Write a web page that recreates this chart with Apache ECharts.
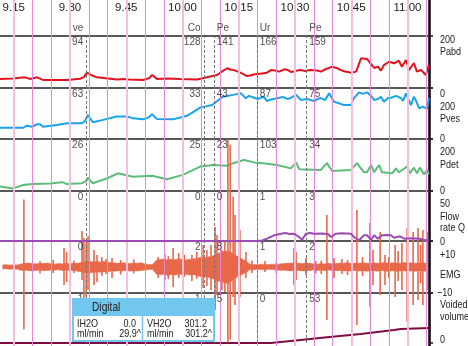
<!DOCTYPE html>
<html><head><meta charset="utf-8">
<script src="https://cdn.jsdelivr.net/npm/echarts@6/dist/echarts.min.js"></script>
<style>html,body{margin:0;padding:0;background:#fff;overflow:hidden}#c{width:468px;height:346px}</style>
</head><body><div id="c"></div>
<script>
// ---------- DATA (time = minutes after 9:00) ----------
const tickTimes  = [15, 30, 45, 60, 75, 90, 105, 120];
const tickLabels = ['9.15', '9.30', '9.45', '10.00', '10.15', '10.30', '10.45', '11.00'];
const gridMinorTimes = [20, 25, 35, 40, 50, 55, 65, 70, 80, 85, 95, 100, 110, 115, 125];
const gridMajorTimes = [15, 30, 45, 60, 75, 90, 105, 120];

const eventTimes = [34.45, 65.73, 68.48, 79.95, 93.12];
const eventNames = ['ve', 'Co', 'Pe', 'Ur', 'Pe'];
const eventSide  = ['before', 'before', 'after', 'after', 'after'];
const pabdAtEvent = ['94', '128', '141', '166', '159'];
const pvesAtEvent = ['63', '33', '43', '87', '75'];
const pdetAtEvent = ['26', '25', '23', '103', '34'];
const flowAtEvent = ['0', '0', '0', '1', '3'];
const emgAtEvent  = ['0', '2', '8', '1', '2'];
const volAtEvent  = ['1', '1', '5', '0', '53'];

const pabd = [[11.3,35],[14.8,37],[18.0,41],[19.3,35],[21.2,41],[22.8,31],[26.0,31],[29.2,31],[32.7,36],[33.7,42],[34.5,59],[35.6,50],[37.2,41],[42.5,33],[44.4,35],[44.9,41],[45.7,33],[49.5,31],[51.1,38],[51.9,50],[53.2,35],[55.9,37],[59.3,35],[63.9,33],[66.5,41],[69.2,50],[70.8,66],[71.9,76],[72.7,71],[73.7,69],[75.6,58],[77.2,46],[78.0,48],[79.0,52],[79.9,54],[81.2,56],[82.5,59],[83.6,69],[84.7,67],[85.8,63],[87.1,72],[88.1,69],[88.9,62],[89.7,63],[90.5,67],[91.6,69],[92.7,65],[94.0,69],[95.9,67],[96.9,63],[98.3,73],[99.9,82],[101.1,77],[102.3,69],[103.3,63],[104.1,62],[104.9,59],[106.3,63],[107.6,114],[109.2,112],[109.7,114],[111.1,77],[112.1,82],[112.9,67],[113.7,88],[115.1,101],[116.4,95],[117.7,105],[118.5,82],[119.6,108],[120.4,69],[121.7,96],[122.5,63],[123.6,69],[124.9,50],[125.7,88]];

const pves = [[11.3,44],[17.5,44],[18.5,52],[19.9,48],[21.2,58],[22.0,58],[22.8,48],[26.5,55],[29.2,62],[33.2,62],[34.0,71],[34.8,94],[35.3,82],[36.1,66],[38.8,75],[42.5,88],[45.2,88],[46.8,81],[49.5,77],[51.1,86],[51.9,97],[53.2,78],[57.5,77],[61.2,91],[64.7,123],[67.9,133],[68.9,145],[70.8,166],[73.5,173],[75.6,179],[76.9,160],[77.7,169],[79.1,162],[80.1,157],[80.9,162],[81.7,165],[82.5,149],[83.6,155],[85.2,160],[86.8,165],[87.9,157],[88.7,160],[90.3,173],[91.6,153],[93.2,157],[95.1,149],[96.7,161],[98.0,153],[99.1,179],[100.4,146],[101.5,141],[103.1,133],[104.9,133],[105.7,160],[107.1,183],[108.1,177],[109.2,183],[110.0,173],[111.1,153],[112.1,157],[112.9,166],[113.7,146],[114.8,161],[115.6,162],[116.9,169],[118.3,160],[118.8,149],[119.6,179],[120.9,133],[121.7,166],[122.3,149],[123.1,120],[124.1,127],[125.2,118],[125.7,160]];

const pdet = [[11.3,17],[14.8,10],[17.5,23],[20.1,27],[24.7,29],[27.9,34],[29.2,27],[33.2,30],[34.3,39],[34.8,51],[35.3,42],[36.1,30],[39.9,49],[42.8,68],[46.8,55],[51.9,59],[55.9,45],[60.1,62],[64.7,94],[68.1,100],[71.9,97],[73.5,107],[76.4,119],[79.1,110],[82.0,106],[85.2,100],[88.9,87],[90.3,110],[91.1,84],[96.9,81],[98.5,107],[99.9,77],[104.9,81],[106.5,107],[108.4,72],[109.2,72],[110.3,100],[111.1,72],[112.4,100],[113.2,72],[115.9,68],[116.9,87],[117.7,72],[119.9,94],[120.7,68],[121.7,90],[122.5,68],[123.3,90],[124.4,64],[125.2,81],[125.7,64]];

const flow = [[11.33,0],[79.9,0],[81.2,0.5],[82.5,2.3],[84.4,5.7],[86.3,7.3],[87.5,8.0],[88.5,7.0],[89.7,7.3],[91.1,4.0],[91.9,1.3],[92.9,7.3],[94.0,8.0],[95.1,7.3],[97.0,7.5],[98.8,7.0],[99.6,4.0],[100.9,7.3],[102.5,7.8],[104.9,7.3],[105.7,4.0],[107.1,0.7],[108.4,5.7],[109.2,5.7],[110.3,1.3],[111.1,5.7],[112.1,2.3],[113.2,5.7],[114.5,6.0],[115.6,5.7],[116.4,3.3],[118.0,4.7],[119.1,2.3],[121.0,2.8],[123.3,2.3],[124.4,0.7],[125.7,1.3]];

// EMG background activity envelope, one sample per minute starting at 9:12
const emgStart = 12;
const emgHi = [0.8,0.9,0.7,0.9,0.8, 1.2,1.4,1.5,1.3,1.2,1.4,1.3,1.5,1.2, 1.1,1.3,1.2,1.4,1.2, 1.5,1.4,1.7,2.0, 2.3,2.0,2.2,1.9,2.1,1.8, 1.6,1.5,1.4,1.6,1.5,1.3,1.5,1.4,1.6,1.2, 0.9,1.0, 2.6,2.9,3.1,2.7,3.0,2.8,3.2,2.9,2.7,3.0,3.1, 3.4,3.8,3.5,3.9,4.2, 5.0,5.5,6.0,6.2,5.6, 4.5,3.8,3.0,2.2, 1.1,0.9,1.0,1.1,0.9,1.0,1.1,0.9, 1.2,1.3,1.4,1.5,1.3, 1.4,1.3,1.5,1.4, 1.2,1.1,1.3,1.2,1.4,1.2, 1.3,1.5,1.4,1.6,1.3,1.5,1.4,1.6,1.5,1.3,1.6,1.4,1.5,1.7,1.4,1.6,1.5,1.4,1.7,1.5,1.6,1.4,1.5,1.6,1.4];
const emgLo = [-0.8,-0.7,-0.9,-0.8,-0.9, -1.3,-1.2,-1.4,-1.5,-1.3,-1.2,-1.4,-1.3,-1.2, -1.2,-1.1,-1.3,-1.2,-1.3, -1.4,-1.6,-1.8,-2.2, -2.2,-2.1,-1.9,-2.0,-1.8,-1.9, -1.5,-1.6,-1.4,-1.5,-1.3,-1.6,-1.4,-1.5,-1.3,-1.2, -1.0,-0.9, -2.7,-3.0,-2.8,-3.2,-2.9,-3.1,-2.7,-3.0,-2.8,-3.1,-2.9, -3.5,-3.7,-3.6,-4.0,-4.4, -5.2,-5.6,-6.0,-6.3,-5.5, -4.3,-3.6,-2.8,-2.0, -1.0,-1.1,-0.9,-1.0,-1.1,-0.9,-1.0,-1.1, -1.3,-1.2,-1.4,-1.5,-1.2, -1.3,-1.5,-1.4,-1.3, -1.1,-1.3,-1.2,-1.4,-1.2,-1.3, -1.4,-1.3,-1.5,-1.4,-1.6,-1.3,-1.5,-1.4,-1.6,-1.5,-1.4,-1.6,-1.3,-1.5,-1.7,-1.4,-1.6,-1.5,-1.4,-1.7,-1.5,-1.6,-1.4,-1.5,-1.6];
// EMG bursts: [time, lowest, highest]
const emgSpikes = [[17.7,-24,26],[22.0,-2.5,2.2],[25.5,-2.3,2.8],[28.4,-6.9,7.3],[29.1,-5.8,5.8],[31.0,-2.3,2.5],[33.2,-5,13.8],[33.7,-12.7,11.2],[34.3,-11.5,9.2],[34.8,-8.8,11.9],[36.4,-6.9,6.5],[37.2,-5.8,4.6],[38.5,-3.5,3.8],[39.6,-2.7,3.1],[41.2,-4.2,3.5],[43.5,-2.9,2.7],[45.2,-3.5,3.8],[47.0,-2.5,2.9],[53.5,-4.2,3.8],[55.3,-5,5],[56.2,-4.6,4.2],[57.5,-7.7,7.3],[59.0,-4.2,5.4],[60.5,-3.8,4.6],[62.5,-5.4,4.6],[63.8,-4.6,5.8],[65.5,-8.1,8.5],[66.5,-7.3,6.5],[67.6,-8.8,8.5],[68.7,-16.5,15.4],[69.2,-10.8,12.3],[70.5,-8.8,6.5],[71.3,-9.6,9.6],[72.1,-29,49],[72.7,-28,47],[73.5,-11.5,27],[74.0,-14.6,20],[75.3,-11.5,14.2],[76.9,-4.2,5.8],[78.5,-2.3,2.5],[82.0,-1.9,2.3],[85.0,-2.3,2.1],[89.7,-6.9,7.3],[90.3,-5,5.8],[92.9,-3.1,3.5],[95.5,-2.5,2.3],[97.0,-2.7,2.5],[98.5,-20.4,20],[100.4,-4.2,3.5],[102.5,-2.7,3.1],[104.0,-3.1,2.7],[106.5,-22.3,21.9],[108.0,-3.5,3.8],[110.0,-15.4,16.9],[110.8,-6.9,6.5],[112.7,-10.8,13.5],[114.0,-6.9,4.6],[115.0,-4.2,3.8],[116.7,-11.5,8.5],[117.5,-5.4,6.2],[118.5,-8.8,9.2],[119.9,-21.2,15],[121.5,-14.6,13.5],[122.8,-12.7,15],[123.5,-6.2,8.5],[124.1,-14.6,14.2],[125.2,-8.8,13.5]];

const voided = [[11.33,0],[83.5,0],[91.5,60],[98.5,114],[107.5,180],[116.4,260],[118.2,280],[125.7,301]];

const panelNames = [['200','Pabd','0'],['200','Pves','0'],['200','Pdet','0'],['50','Flow','rate Q','0'],['+10','EMG','\u221210'],['Voided','volume','0']];
const digitalTitle = 'Digital';
const digitalRows = [['IH2O','0.0','VH2O','301.2'],['ml/min','29.9^','ml/min','301.2^']];

// ---------- LAYOUT / STYLE ----------
const T0 = 11.33, T1 = 125.73;
const PLOT_W = 429;
const panels = [
  {top:36, h:52, min:0, max:200},
  {top:88, h:51, min:0, max:200},
  {top:139, h:52, min:0, max:200},
  {top:191, h:50, min:0, max:50},
  {top:241, h:52, min:-10, max:10},
  {top:293, h:50, min:0, max:1000}
];
const FONT = "'Liberation Sans', Arial, sans-serif";
const TXT = '#222';
const C = {pabd:'#e2131f', pves:'#1aa3e8', pdet:'#5cbd78', flow:'#9e4bb0', emg:'#e8684a', vol:'#7d0d40'};

const grids = [{left:0, top:0, width:PLOT_W, height:346, outerBoundsMode:'none'}]
  .concat(panels.map(p => ({left:0, top:p.top, width:PLOT_W, height:p.h, outerBoundsMode:'none'})));

const xAxes = [{
  gridIndex:0, type:'value', min:T0, max:T1, position:'top',
  axisLine:{show:false}, axisTick:{show:false}, splitLine:{show:false},
  axisLabel:{inside:true, margin:2, customValues:tickTimes, color:TXT, fontSize:11.5, fontFamily:FONT,
    formatter:(v)=>{ const i = tickTimes.indexOf(v); return i >= 0 ? tickLabels[i] : ''; }}
}].concat(panels.map((p,i) => ({
  gridIndex:i+1, type:'value', min:T0, max:T1, position:'top', z:3,
  axisLine:{show:true, onZero:false, lineStyle:{color:'#222', width:1.6}},
  axisTick:{show:false}, axisLabel:{show:false}, splitLine:{show:false}
})));

const yAxes = [{
  gridIndex:0, type:'value', min:0, max:1, position:'right',
  axisLine:{show:true, onZero:false, lineStyle:{color:'#111', width:2.6}},
  axisTick:{show:false}, axisLabel:{show:false}, splitLine:{show:false}
}].concat(panels.map((p,i) => ({
  gridIndex:i+1, type:'value', min:p.min, max:p.max, interval:p.max-p.min, position:'right',
  axisLine:{show:false, onZero:false},
  axisTick:{show:true, length:4, lineStyle:{color:'#222', width:1.6}},
  axisLabel:{show:false}, splitLine:{show:false}
})));

const eventMarkLine = {
  silent:true, symbol:['none','none'], label:{show:false},
  lineStyle:{color:'#777', type:[3,2], width:1},
  data: eventTimes.map(t => ({xAxis:t}))
};

function lineSeries(idx, data, color, extra) {
  return Object.assign({
    type:'line', xAxisIndex:idx, yAxisIndex:idx, data:data, showSymbol:false, symbol:'none',
    lineStyle:{color:color, width:2}, itemStyle:{color:color}, z:3, animation:false
  }, extra || {});
}

function eventLabelSeries(idx, texts, up) {
  const p = panels[idx-1];
  return {
    type:'scatter', xAxisIndex:idx, yAxisIndex:idx, symbolSize:1, itemStyle:{color:'transparent'},
    silent:true, z:6, animation:false,
    data: eventTimes.map((t,k) => ({
      value:[t, p.max],
      label:{show:true, formatter:texts[k], color:TXT, fontSize:10, fontFamily:FONT,
        align: eventSide[k]==='before' ? 'right' : 'left',
        verticalAlign: up ? 'bottom' : 'top',
        position:[eventSide[k]==='before' ? -3 : 3, up ? -2 : 2]}
    }))
  };
}

const series = [
  {type:'line', xAxisIndex:0, yAxisIndex:0, data:[], z:1, silent:true,
   markLine:{silent:true, symbol:['none','none'], label:{show:false}, animation:false,
     data: gridMinorTimes.map(t => ({xAxis:t, lineStyle:{color:'#e888d2', width:1, type:'solid'}}))
       .concat(gridMajorTimes.map(t => ({xAxis:t, lineStyle:{color:'#f6bde0', width:2, type:'solid'}})))}},
  lineSeries(1, pabd, C.pabd, {markLine:eventMarkLine}),
  lineSeries(2, pves, C.pves, {markLine:eventMarkLine}),
  lineSeries(3, pdet, C.pdet, {markLine:eventMarkLine}),
  lineSeries(4, flow, C.flow, {markLine:eventMarkLine, z:5, clip:false}),
  lineSeries(5, emgHi.map((v,i) => [emgStart+i, v]), C.emg, {lineStyle:{color:C.emg, width:0.6}, areaStyle:{color:C.emg, opacity:1}, markLine:eventMarkLine}),
  lineSeries(5, emgLo.map((v,i) => [emgStart+i, v]), C.emg, {lineStyle:{color:C.emg, width:0.6}, areaStyle:{color:C.emg, opacity:1}}),
  {type:'custom', xAxisIndex:5, yAxisIndex:5, data:emgSpikes, clip:false, z:4, silent:true, animation:false,
   encode:{x:0, y:[1,2]},
   renderItem:(params, api) => {
     const a = api.coord([api.value(0), api.value(2)]);
     const b = api.coord([api.value(0), api.value(1)]);
     return {type:'line', shape:{x1:a[0], y1:a[1], x2:b[0], y2:b[1]}, style:{stroke:C.emg, lineWidth:1.6}};
   }},
  lineSeries(6, voided, C.vol, {markLine:eventMarkLine, clip:false}),
  eventLabelSeries(1, eventNames, true),
  eventLabelSeries(1, pabdAtEvent, false),
  eventLabelSeries(2, pvesAtEvent, false),
  eventLabelSeries(3, pdetAtEvent, false),
  eventLabelSeries(4, flowAtEvent, false),
  eventLabelSeries(5, emgAtEvent, false),
  eventLabelSeries(6, volAtEvent, false)
];

// right-hand scale captions (positions are layout)
const rightY = [[39.7,51.7,93.5],[107,118.7,138.8],[152.3,164.7,191.3],[204,216.7,228.3,241.7],[254.5,275,292.7],[304.5,317,340.3]];
const NARROW_SCALE = 0.82;
const graphics = [];
panelNames.forEach((arr,i) => arr.forEach((s,j) => {
  graphics.push({type:'text', x: s.charAt(0)==='\u2212' ? 437 : 440, y:rightY[i][j], z:10, silent:true, scaleX:NARROW_SCALE,
    style:{text:s, fill:TXT, font:'11px ' + FONT, verticalAlign:'middle', align:'left'}});
}));
// digital box
const BX = 73, BY = 299, BW = 141, BH = 42, HH = 17, BLUE = '#72c7ef';
graphics.push({type:'rect', z:20, silent:true, shape:{x:BX, y:BY, width:BW, height:BH}, style:{fill:'#fff', stroke:BLUE, lineWidth:2}});
graphics.push({type:'rect', z:21, silent:true, shape:{x:BX, y:BY, width:BW, height:HH}, style:{fill:BLUE}});
graphics.push({type:'line', z:21, silent:true, shape:{x1:142.5, y1:BY+HH, x2:142.5, y2:BY+BH}, style:{stroke:BLUE, lineWidth:1.5}});
graphics.push({type:'text', z:22, silent:true, x:92, y:308, scaleX:0.85, style:{text:digitalTitle, fill:TXT, font:'12px ' + FONT, verticalAlign:'middle'}});
const rowY = [324, 333.5];
digitalRows.forEach((r,i) => {
  const st = (txt, al) => ({text:txt, fill:TXT, font:'11px ' + FONT, verticalAlign:'middle', align:al});
  graphics.push({type:'text', z:22, silent:true, x:77, y:rowY[i], scaleX:NARROW_SCALE, style:st(r[0],'left')});
  graphics.push({type:'text', z:22, silent:true, x:i ? 141 : 136, y:rowY[i], scaleX:NARROW_SCALE, style:st(r[1],'right')});
  graphics.push({type:'text', z:22, silent:true, x:147, y:rowY[i], scaleX:NARROW_SCALE, style:st(r[2],'left')});
  graphics.push({type:'text', z:22, silent:true, x:i ? 212 : 207, y:rowY[i], scaleX:NARROW_SCALE, style:st(r[3],'right')});
});

const chart = echarts.init(document.getElementById('c'), null, {renderer:'canvas'});
chart.setOption({
  animation:false,
  backgroundColor:'#fff',
  textStyle:{fontFamily:FONT},
  grid:grids, xAxis:xAxes, yAxis:yAxes, series:series, graphic:graphics
});
</script>
</body></html>
